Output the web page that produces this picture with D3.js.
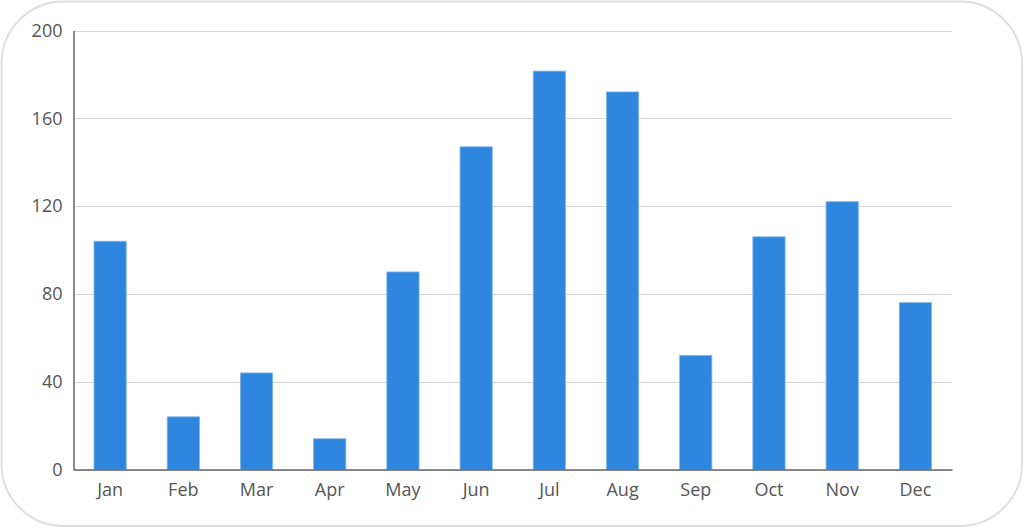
<!DOCTYPE html>
<html><head><meta charset="utf-8">
<script src="https://cdn.jsdelivr.net/npm/d3@7"></script>
<style>html,body{margin:0;padding:0;background:#fff;}svg{display:block;}</style>
</head><body>
<svg id="chart" width="1024" height="528"></svg>
<script>
const months = ["Jan","Feb","Mar","Apr","May","Jun","Jul","Aug","Sep","Oct","Nov","Dec"];
const values = [104, 24, 44, 14, 90, 147, 181.5, 172, 52, 106, 122, 76];
const yTicks = [0, 40, 80, 120, 160, 200];

(function(){
const svg = d3.select("#chart");
svg.append("rect").attr("x",1.5).attr("y",1.5).attr("width",1020.5).attr("height",524.5)
  .attr("rx",62).attr("ry",62).attr("fill","#fff").attr("stroke","#dcdcdc").attr("stroke-width",1.8);

const mLeft = 73.5, mRight = 952, mTop = 30.5, mBottom = 469.5;
const x = d3.scaleBand().domain(months).range([mLeft, mRight]).paddingInner(0.56).paddingOuter(0.28);
const y = d3.scaleLinear().domain([0, 200]).range([mBottom, mTop]);

const g = svg.append("g");
g.selectAll("line.grid").data(yTicks).join("line").attr("class","grid")
  .attr("x1", mLeft).attr("x2", mRight).attr("y1", d => Math.round(y(d))+0.5).attr("y2", d => Math.round(y(d))+0.5)
  .attr("stroke","#d6d6d6").attr("stroke-width",1);

g.selectAll("rect.bar").data(values).join("rect").attr("class","bar")
  .attr("x", (d,i) => x(months[i])).attr("width", x.bandwidth())
  .attr("y", d => y(d)).attr("height", d => mBottom - y(d))
  .attr("fill","#2e86de").attr("stroke","#7fb4ec").attr("stroke-width",0.8);

const font = "'Open Sans', sans-serif";
const yAxis = d3.axisLeft(y).tickValues(yTicks).tickSize(0).tickPadding(11);
const ya = svg.append("g").attr("transform", `translate(${mLeft},0)`).call(yAxis);
ya.select(".domain").attr("stroke","#666").attr("stroke-width",1.5);
ya.selectAll("text").attr("font-family", font).attr("font-size", 18).attr("fill","#555");

const xAxis = d3.axisBottom(x).tickSize(0).tickPadding(14);
const xa = svg.append("g").attr("transform", `translate(0,${mBottom})`).call(xAxis);
xa.select(".domain").attr("stroke","#666").attr("stroke-width",1.5);
xa.selectAll("text").attr("font-family", font).attr("font-size", 18).attr("fill","#555");
})();
</script>
</body></html>
